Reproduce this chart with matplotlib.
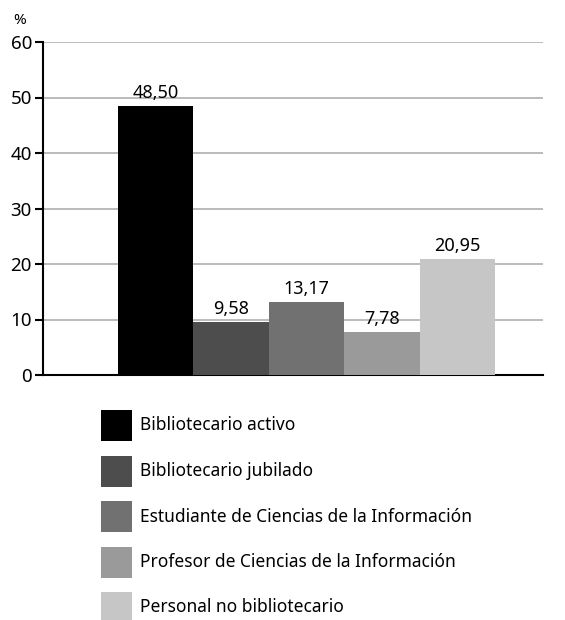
import matplotlib.pyplot as plt
from matplotlib.patches import Rectangle

# Datos
categorias = ["Bibliotecario activo", "Bibliotecario jubilado",
              "Estudiante de Ciencias de la Información",
              "Profesor de Ciencias de la Información",
              "Personal no bibliotecario"]
valores = [48.50, 9.58, 13.17, 7.78, 20.95]
etiquetas = ["48,50", "9,58", "13,17", "7,78", "20,95"]
yticks = [0, 10, 20, 30, 40, 50, 60]

colores = ["#000000", "#4d4d4d", "#717171", "#9a9a9a", "#c6c6c6"]

plt.rcParams['font.family'] = ['Noto Sans', 'DejaVu Sans']
plt.rcParams['font.size'] = 12

W, H = 565, 620
fig = plt.figure(figsize=(W / 100, H / 100), dpi=100)
ax = fig.add_axes([43 / W, 1 - 375 / H, 500 / W, 333 / H])

x = list(range(len(valores)))
ax.bar(x, valores, width=1.0, color=colores, zorder=3)

for xi, v, t in zip(x, valores, etiquetas):
    ax.annotate(t, (xi, v), xytext=(0, 3), textcoords="offset points",
                ha="center", va="bottom", fontsize=13)

ax.set_xlim(-1.49, 5.13)
ax.set_ylim(0, 60)
ax.set_yticks(yticks)
ax.set_xticks([])
ax.yaxis.grid(True, color="#b5b5b5", linewidth=1.3, zorder=0)
ax.set_axisbelow(True)
ax.tick_params(axis="y", direction="out", length=6, width=1.5, pad=2, labelsize=13.5)

for s in ["top", "right"]:
    ax.spines[s].set_visible(False)
ax.spines["left"].set_linewidth(1.5)
ax.spines["bottom"].set_linewidth(1.5)

fig.text(20 / W, 1 - 20 / H, "%", ha="center", va="center", fontsize=11)

# Leyenda dibujada a mano (cuadrados + texto)
for i, (c, nombre) in enumerate(zip(colores, categorias)):
    yc = 425.5 + 45.5 * i
    fig.patches.append(Rectangle((101 / W, 1 - (yc + 15.5) / H), 31 / W, 31 / H,
                                 transform=fig.transFigure, facecolor=c,
                                 edgecolor="none"))
    fig.text(140 / W, 1 - yc / H, nombre, ha="left", va="center", fontsize=12.5)

fig.savefig("out.png", dpi=100)
